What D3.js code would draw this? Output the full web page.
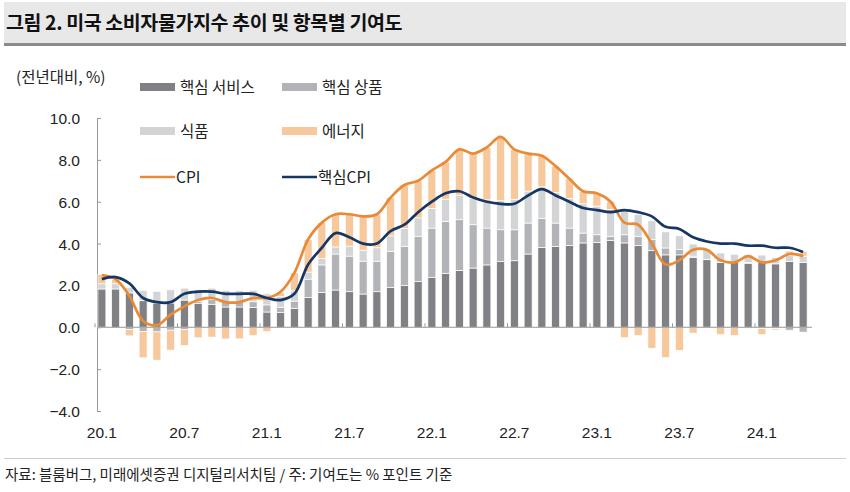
<!DOCTYPE html>
<html><head><meta charset="utf-8">
<script src="https://cdn.jsdelivr.net/npm/d3@7"></script>
<style>
body{margin:0;background:#fff;}
svg{display:block;}
text{font-family:"Liberation Sans","Noto Sans CJK KR",Arial,sans-serif;fill:#222;}
.kr{font-family:"Noto Sans CJK KR","Liberation Sans",sans-serif;}
</style></head>
<body>
<svg id="chart" width="850" height="492"></svg>
<script>
const months = ["20.1","20.2","20.3","20.4","20.5","20.6","20.7","20.8","20.9","20.10","20.11","20.12",
"21.1","21.2","21.3","21.4","21.5","21.6","21.7","21.8","21.9","21.10","21.11","21.12",
"22.1","22.2","22.3","22.4","22.5","22.6","22.7","22.8","22.9","22.10","22.11","22.12",
"23.1","23.2","23.3","23.4","23.5","23.6","23.7","23.8","23.9","23.10","23.11","23.12",
"24.1","24.2","24.3","24.4"];
const tickLabels = ["20.1","20.7","21.1","21.7","22.1","22.7","23.1","23.7","24.1"];
const yTicks = [-4,-2,0,2,4,6,8,10];

const coreServices = [1.83,1.83,1.64,1.27,1.16,1.16,1.3,1.15,1.1,0.97,0.97,0.94,
0.73,0.7,0.91,1.42,1.66,1.78,1.7,1.59,1.7,1.91,1.99,2.18,
2.39,2.58,2.71,2.83,2.98,3.14,3.18,3.5,3.82,3.87,3.9,4.03,
4.06,4.14,4.03,3.9,3.66,3.46,3.46,3.34,3.23,3.1,3.1,3.06,
3.1,3.03,3.14,3.1];
const coreGoods = [-0.02,0.0,-0.1,-0.2,-0.22,-0.14,-0.1,0.08,0.22,0.24,0.26,0.28,
0.34,0.26,0.34,0.88,1.32,1.72,1.7,1.57,1.46,1.72,1.88,2.17,
2.35,2.48,2.43,2.07,1.76,1.52,1.48,1.48,1.39,1.11,0.84,0.47,
0.36,0.21,0.39,0.45,0.53,0.33,0.25,0.06,0.01,0.0,0.0,0.04,
-0.06,-0.06,-0.14,-0.23];
const food = [0.25,0.25,0.27,0.49,0.56,0.63,0.57,0.57,0.55,0.55,0.52,0.55,
0.53,0.5,0.49,0.34,0.31,0.34,0.48,0.52,0.64,0.74,0.85,0.88,
0.94,1.06,1.18,1.26,1.35,1.39,1.46,1.53,1.5,1.46,1.42,1.4,
1.37,1.28,1.15,1.04,0.9,0.77,0.66,0.58,0.5,0.45,0.39,0.36,
0.35,0.3,0.3,0.3];
const energy = [0.44,0.2,-0.31,-1.26,-1.35,-0.95,-0.77,-0.5,-0.47,-0.56,-0.55,-0.4,
-0.2,0.2,0.86,1.56,1.71,1.56,1.52,1.62,1.6,1.83,2.08,1.77,
1.82,1.78,2.18,2.14,2.51,3.05,2.38,1.79,1.49,1.26,0.94,0.6,
0.61,0.37,-0.5,-0.4,-1.0,-1.45,-1.1,-0.28,-0.04,-0.35,-0.39,-0.06,
-0.29,-0.07,0.2,0.23];
const cpi = [2.5,2.3,1.5,0.3,0.1,0.6,1.0,1.3,1.4,1.2,1.2,1.4,
1.4,1.7,2.6,4.2,5.0,5.4,5.4,5.3,5.4,6.2,6.8,7.0,
7.5,7.9,8.5,8.3,8.6,9.1,8.5,8.3,8.2,7.7,7.1,6.5,
6.4,6.0,5.0,4.9,4.0,3.0,3.2,3.7,3.7,3.2,3.1,3.4,
3.1,3.2,3.5,3.4];
const coreCpi = [2.3,2.4,2.1,1.4,1.2,1.2,1.6,1.7,1.7,1.6,1.6,1.6,
1.4,1.3,1.6,3.0,3.8,4.5,4.3,4.0,4.0,4.6,4.9,5.5,
6.0,6.4,6.5,6.2,6.0,5.9,5.9,6.3,6.6,6.3,6.0,5.7,
5.6,5.5,5.6,5.5,5.3,4.8,4.7,4.3,4.1,4.0,4.0,3.9,
3.9,3.8,3.8,3.6];

const seriesNames = ["핵심 서비스","핵심 상품","식품","에너지"];
const seriesKeys = ["svc","goods","food","energy"];
const colors = {svc:"#808184", goods:"#b2b3b6", food:"#d3d4d6", energy:"#f6c89c"};
const cpiColor = "#e98a36", coreColor = "#163764";

const table = months.map((m,i)=>({m, svc:coreServices[i], goods:coreGoods[i], food:food[i], energy:energy[i]}));

const svg = d3.select("#chart");

// title band
svg.append("rect").attr("x",4).attr("y",2).attr("width",842).attr("height",41).attr("fill","#e8e8e8");
svg.append("line").attr("x1",4).attr("x2",846).attr("y1",44.5).attr("y2",44.5).attr("stroke","#8a8a8a").attr("stroke-width",3);
svg.append("text").attr("class","kr").attr("x",6).attr("y",30).attr("font-size",19.5).attr("font-weight","bold")
  .attr("letter-spacing",-0.4).style("fill","#111").text("그림 2. 미국 소비자물가지수 추이 및 항목별 기여도");

const x = d3.scaleBand().domain(months).range([95,810]).paddingInner(0.42).paddingOuter(0.21);
const y = d3.scaleLinear().domain([-4,10]).range([411,118]);

// y axis
const yAxis = d3.axisRight(y).tickValues(yTicks).tickSize(4).tickFormat(d3.format(".1f"));
const ya = svg.append("g").attr("transform","translate(97,0)").call(yAxis);
ya.select(".domain").attr("stroke","#999");
ya.selectAll(".tick line").attr("stroke","#999");
ya.selectAll(".tick text").attr("x",-17).attr("text-anchor","end").attr("font-size",15.5)
  .attr("font-family","Liberation Sans, Arial, sans-serif").style("fill","#222").attr("dy","0.35em");

// stacked bars
const stack = d3.stack().keys(seriesKeys).offset(d3.stackOffsetDiverging);
const stacked = stack(table);
svg.append("g").selectAll("g").data(stacked).join("g").attr("fill",d=>colors[d.key])
  .selectAll("rect").data(d=>d).join("rect")
  .attr("x",d=>x(d.data.m)).attr("width",x.bandwidth())
  .attr("y",d=>y(Math.max(d[0],d[1]))).attr("height",d=>Math.abs(y(d[0])-y(d[1])))
  .attr("stroke","#fff").attr("stroke-width",0.7);

// x axis line at 0
const xa = svg.append("g").attr("transform",`translate(0,${y(0)})`);
xa.append("line").attr("x1",97).attr("x2",812).attr("stroke","#999").attr("stroke-width",1);
xa.selectAll("line.tk").data(tickLabels).join("line").attr("class","tk")
  .attr("x1",d=>x(d)-x.step()*x.paddingInner()/2).attr("x2",d=>x(d)-x.step()*x.paddingInner()/2)
  .attr("y1",0).attr("y2",-4).attr("stroke","#999");
svg.append("g").selectAll("text").data(tickLabels).join("text")
  .attr("x",d=>x(d)+x.bandwidth()/2).attr("y",438).attr("text-anchor","middle").attr("font-size",15.5)
  .text(d=>d);

// lines
const line = arr => d3.line().x((d,i)=>x(months[i])+x.bandwidth()/2).y(d=>y(d)).curve(d3.curveCatmullRom.alpha(0.5))(arr);
svg.append("path").attr("d",line(cpi)).attr("fill","none").attr("stroke",cpiColor).attr("stroke-width",2.7);
svg.append("path").attr("d",line(coreCpi)).attr("fill","none").attr("stroke",coreColor).attr("stroke-width",2.7);

// y label
svg.append("text").attr("class","kr").attr("x",16).attr("y",83).attr("font-size",15.5).text("(전년대비, %)");

// legend
const leg = [
  {t:seriesNames[0], k:"svc", x:140, y:87, type:"bar"},
  {t:seriesNames[1], k:"goods", x:282, y:87, type:"bar"},
  {t:seriesNames[2], k:"food", x:140, y:131, type:"bar"},
  {t:seriesNames[3], k:"energy", x:282, y:131, type:"bar"},
  {t:"CPI", c:cpiColor, x:140, y:177, type:"line"},
  {t:"핵심CPI", c:coreColor, x:282, y:177, type:"line"}
];
const lg = svg.append("g");
leg.forEach(l=>{
  if(l.type==="bar") lg.append("rect").attr("x",l.x).attr("y",l.y-4).attr("width",35).attr("height",8).attr("fill",colors[l.k]);
  else lg.append("line").attr("x1",l.x).attr("x2",l.x+35).attr("y1",l.y).attr("y2",l.y).attr("stroke",l.c).attr("stroke-width",2.7);
  lg.append("text").attr("class","kr").attr("x",l.x+(l.type==="bar"?40:36)).attr("y",l.y).attr("dy","0.36em").attr("font-size",15.5).text(l.t);
});

// footer
svg.append("line").attr("x1",4).attr("x2",846).attr("y1",458.5).attr("y2",458.5).attr("stroke","#cfcfcf").attr("stroke-width",1);
svg.append("text").attr("class","kr").attr("x",5).attr("y",480).attr("font-size",14.5)
  .text("자료: 블룸버그, 미래에셋증권 디지털리서치팀 / 주: 기여도는 % 포인트 기준");
</script>
</body></html>
